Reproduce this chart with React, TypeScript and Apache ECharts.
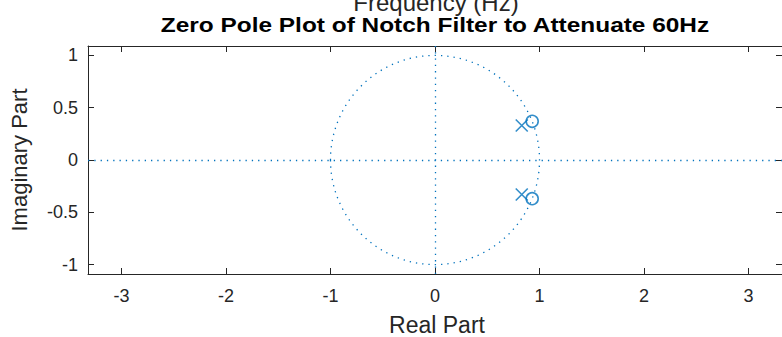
import React, { useEffect, useRef } from 'react';
import * as echarts from 'echarts';

const TITLE = 'Zero Pole Plot of Notch Filter to Attenuate 60Hz';
const PREV_XLABEL = 'Frequency (Hz)';
const X_LABEL = 'Real Part';
const Y_LABEL = 'Imaginary Part';
const X_TICKS = [-3, -2, -1, 0, 1, 2, 3];
const Y_TICKS = [-1, -0.5, 0, 0.5, 1];
const X_MIN = -3.32;
const X_MAX = 3.32;
const Y_MIN = -1.09;
const Y_MAX = 1.09;
// [real, imag]
const ZEROS = [
  [0.93, 0.37],
  [0.93, -0.37],
];
const POLES = [
  [0.83, 0.33],
  [0.83, -0.33],
];
// [centerX, centerY, radius]
const UNIT_CIRCLE = [[0, 0, 1]];

const BLUE = '#0072BD';
const AXIS = '#262626';
const FONT = 'Liberation Sans, Arial, sans-serif';
const DOT = [1.3, 5];

export default function App() {
  const ref = useRef<HTMLDivElement>(null);
  useEffect(() => {
    if (!ref.current) return;
    const chart = echarts.init(ref.current, undefined, { renderer: 'svg' });
    const xAxisBase = (pos: 'bottom' | 'top', showLabel: boolean) => ({
      type: 'value',
      position: pos,
      min: X_MIN,
      max: X_MAX,
      axisLine: { show: true, onZero: false, lineStyle: { color: AXIS, width: 1 } },
      axisTick: { show: true, inside: true, length: 6, customValues: X_TICKS, lineStyle: { color: AXIS, width: 1 } },
      axisLabel: {
        show: showLabel,
        customValues: X_TICKS,
        color: AXIS,
        fontSize: 18,
        fontFamily: FONT,
        margin: 13,
      },
      splitLine: { show: false },
    });
    const yAxisBase = (pos: 'left' | 'right', showLabel: boolean) => ({
      type: 'value',
      position: pos,
      min: Y_MIN,
      max: Y_MAX,
      axisLine: { show: true, onZero: false, lineStyle: { color: AXIS, width: 1 } },
      axisTick: { show: true, inside: true, length: 6, customValues: Y_TICKS, lineStyle: { color: AXIS, width: 1 } },
      axisLabel: {
        show: showLabel,
        customValues: Y_TICKS,
        color: AXIS,
        fontSize: 18,
        fontFamily: FONT,
        margin: 10,
      },
      splitLine: { show: false },
    });
    chart.setOption({
      animation: false,
      backgroundColor: '#ffffff',
      grid: { left: 88, top: 46, width: 695, height: 228, containLabel: false },
      xAxis: [xAxisBase('bottom', true), xAxisBase('top', false)],
      yAxis: [yAxisBase('left', true), yAxisBase('right', false)],
      graphic: [
        {
          type: 'text',
          x: 436,
          y: 2,
          silent: true,
          style: {
            text: PREV_XLABEL,
            fill: AXIS,
            font: `24px ${FONT}`,
            align: 'center',
            verticalAlign: 'middle',
          },
        },
        {
          type: 'text',
          x: 435,
          y: 25,
          scaleX: 1.18,
          silent: true,
          style: {
            text: TITLE,
            fill: '#000000',
            font: `bold 20.7px ${FONT}`,
            align: 'center',
            verticalAlign: 'middle',
          },
        },
        {
          type: 'text',
          x: 437,
          y: 325,
          silent: true,
          style: {
            text: X_LABEL,
            fill: AXIS,
            font: `23px ${FONT}`,
            align: 'center',
            verticalAlign: 'middle',
          },
        },
        {
          type: 'text',
          x: 19,
          y: 160,
          rotation: Math.PI / 2,
          silent: true,
          style: {
            text: Y_LABEL,
            fill: AXIS,
            font: `22px ${FONT}`,
            align: 'center',
            verticalAlign: 'middle',
          },
        },
      ],
      series: [
        {
          type: 'custom',
          xAxisIndex: 0,
          yAxisIndex: 0,
          silent: true,
          data: UNIT_CIRCLE,
          renderItem: (params: any, api: any) => {
            const c = api.coord([api.value(0), api.value(1)]);
            const s = api.size([api.value(2), api.value(2)]);
            return {
              type: 'ellipse',
              shape: { cx: c[0], cy: c[1], rx: s[0], ry: s[1] },
              style: { fill: 'none', stroke: BLUE, lineWidth: 1.3, lineDash: DOT },
            };
          },
        },
        {
          type: 'scatter',
          name: 'Zeros',
          xAxisIndex: 0,
          yAxisIndex: 0,
          data: ZEROS,
          symbol: 'circle',
          symbolSize: 12,
          silent: true,
          itemStyle: { color: 'rgba(0,0,0,0)', borderColor: BLUE, borderWidth: 1.6 },
          markLine: {
            silent: true,
            symbol: ['none', 'none'],
            label: { show: false },
            lineStyle: { color: BLUE, width: 1.3, type: DOT },
            data: [{ yAxis: 0 }, { xAxis: 0 }],
          },
        },
        {
          type: 'scatter',
          name: 'Poles',
          xAxisIndex: 0,
          yAxisIndex: 0,
          data: POLES,
          symbol: 'path://M0 0 L10 10 M10 0 L0 10',
          symbolSize: 12,
          silent: true,
          itemStyle: { color: 'none', borderColor: BLUE, borderWidth: 1.6 },
        },
      ],
    });
    return () => chart.dispose();
  }, []);
  return (
    <div
      ref={ref}
      style={{ position: 'fixed', left: 0, top: 0, width: 782, height: 337 }}
    />
  );
}
